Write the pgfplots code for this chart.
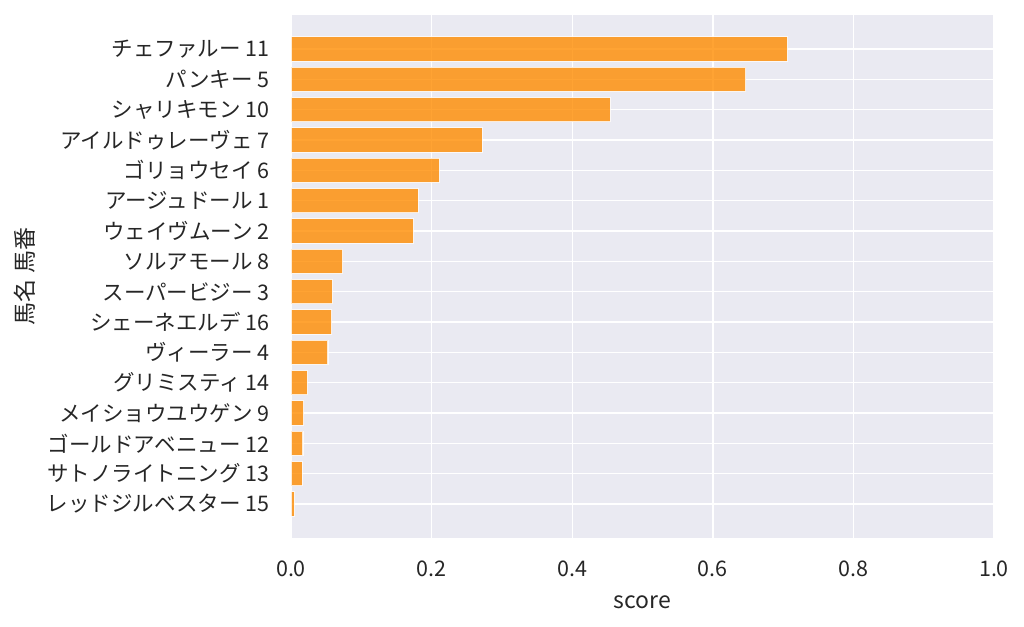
\documentclass[border=0pt]{standalone}
\usepackage{pgfplots}
\pgfplotsset{compat=1.18}
\usepackage{fontspec}
\setmainfont{Noto Sans CJK JP}
\definecolor{bg}{RGB}{234,234,242}
\definecolor{txt}{RGB}{38,38,38}
\definecolor{barc}{RGB}{255,140,0}
\begin{document}
\begin{tikzpicture}
\useasboundingbox (0,0) rectangle (1024bp,627bp);
\begin{axis}[
  at={(291bp,89bp)}, anchor=south west, scale only axis,
  width=703bp, height=523bp,
  xmin=0, xmax=1, ymin=-1.12, ymax=16.12, y dir=reverse,
  xbar, bar width=0.8, bar shift=0pt,
  axis background/.style={fill=bg},
  axis line style={draw=none},
  major tick style={draw=none},
  grid=major,
  major grid style={white, line width=1.4bp},
  ytick={0,...,15},
  yticklabels={チェファルー 11, パンキー 5, シャリキモン 10, アイルドゥレーヴェ 7, ゴリョウセイ 6, アージュドール 1, ウェイヴムーン 2, ソルアモール 8, スーパービジー 3, シェーネエルデ 16, ヴィーラー 4, グリミスティ 14, メイショウユウゲン 9, ゴールドアベニュー 12, サトノライトニング 13, レッドジルベスター 15},
  xtick={0,0.2,0.4,0.6,0.8,1.0},
  /pgf/number format/assume math mode=true,
  xticklabel style={/pgf/number format/fixed, /pgf/number format/fixed zerofill, /pgf/number format/precision=1, inner sep=0pt, yshift=-23bp},
  yticklabel style={inner sep=0pt, xshift=-17bp},
  tick label style={font=\fontsize{21.5bp}{25bp}\selectfont, text=txt},
  label style={font=\fontsize{23bp}{27bp}\selectfont, text=txt},
  xlabel={score},
  xlabel style={at={([yshift=-70bp]axis description cs:0.5,0)}, anchor=base, inner sep=0pt},
  ylabel={馬名 馬番},
  ylabel style={at={([xshift=-266bp]axis description cs:0,0.5)}, anchor=center, inner sep=0pt},
]
\addplot[fill=barc, fill opacity=0.8, draw=white, draw opacity=0.8, line width=1.2bp] table[x=v, y=i] {
i v
0 0.706
1 0.647
2 0.454
3 0.272
4 0.211
5 0.181
6 0.174
7 0.0735
8 0.0588
9 0.0578
10 0.0526
11 0.0232
12 0.0180
13 0.0170
14 0.0160
15 0.0047
};
\end{axis}
\end{tikzpicture}
\end{document}
